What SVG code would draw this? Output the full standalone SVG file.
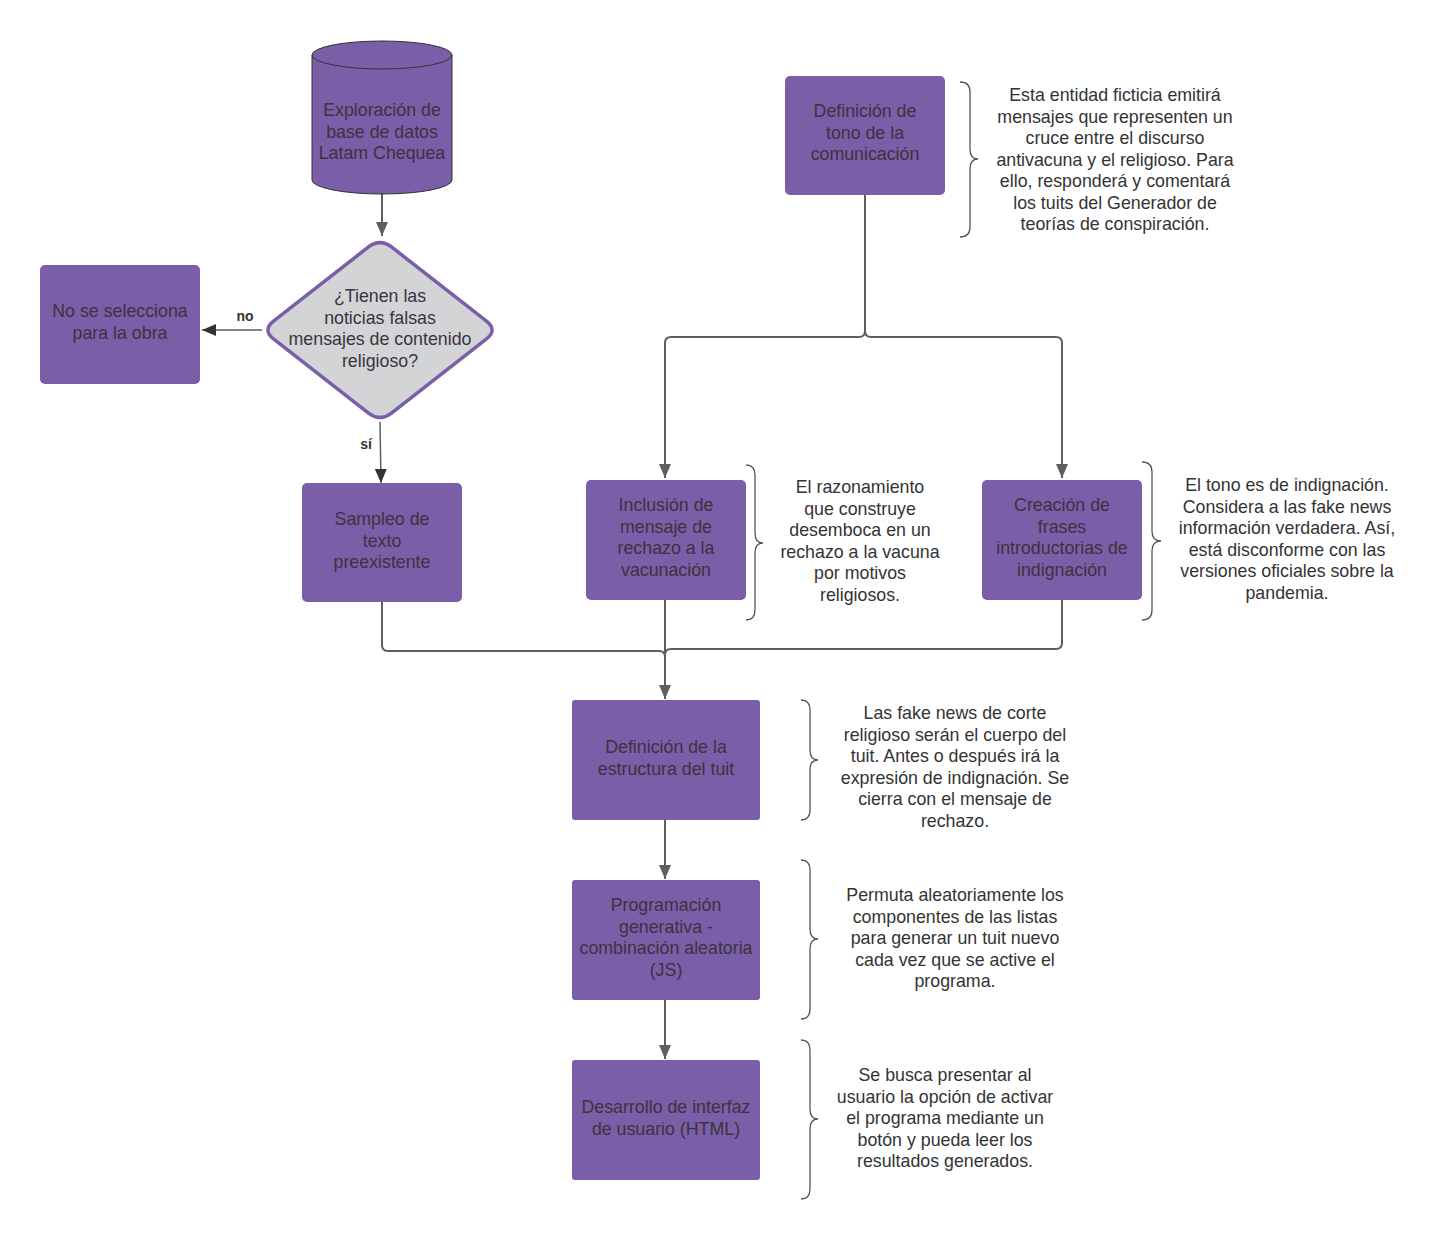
<svg xmlns="http://www.w3.org/2000/svg" width="1443" height="1240" viewBox="0 0 1443 1240">
<defs>
<marker id="ah" markerWidth="14" markerHeight="12" refX="14" refY="6" orient="auto" markerUnits="userSpaceOnUse"><path d="M0,0 L14,6 L0,12 Z" fill="#5e5e5e"/></marker>
<marker id="ah2" markerWidth="14" markerHeight="12" refX="14" refY="6" orient="auto" markerUnits="userSpaceOnUse"><path d="M0,0 L14,6 L0,12 Z" fill="#333333"/></marker>
<style>
.box{fill:#7a5ea7;}
.bt{font-family:"Liberation Sans",Arial,sans-serif;font-size:17.8px;fill:#3a3340;text-anchor:middle;}
.nt{font-family:"Liberation Sans",Arial,sans-serif;font-size:17.8px;fill:#333333;text-anchor:middle;}
.lbl{font-family:"Liberation Sans",Arial,sans-serif;font-size:14px;font-weight:bold;fill:#333333;text-anchor:middle;}
.con{fill:none;stroke:#5e5e5e;stroke-width:2;}
.thin{fill:none;stroke:#5e5e5e;stroke-width:1.5;}
.brace{fill:none;stroke:#555555;stroke-width:1.3;}
</style>
</defs>
<rect width="1443" height="1240" fill="#ffffff"/>

<g id="connectors">
<path class="con" d="M382,194 V236" marker-end="url(#ah)"/>
<path class="thin" d="M262,330 H202" marker-end="url(#ah2)"/>
<path class="thin" d="M380,422 L381,483" marker-end="url(#ah2)"/>
<path class="con" d="M865,195 V331 Q865,337 859,337 H671 Q665,337 665,343 V478" marker-end="url(#ah)"/>
<path class="con" d="M865,331 Q865,337 871,337 H1056 Q1062,337 1062,343 V478" marker-end="url(#ah)"/>
<path class="con" d="M382,602 V645 Q382,651 388,651 H659 Q665,651 665,657"/>
<path class="con" d="M1062,600 V643 Q1062,649 1056,649 H671 Q665,649 665,655"/>
<path class="con" d="M665,600 V699" marker-end="url(#ah)"/>
<path class="con" d="M665,820 V879" marker-end="url(#ah)"/>
<path class="con" d="M665,1000 V1059" marker-end="url(#ah)"/>
<text class="lbl" x="245" y="321">no</text>
<text class="lbl" x="366" y="449">sí</text>
</g>

<g id="n-db">
<path d="M312,55 V180 A70,14 0 0 0 452,180 V55 A70,14 0 0 0 312,55 Z" fill="#7a5ea7" stroke="#333333" stroke-width="1"/>
<path d="M312,55 A70,14 0 0 0 452,55" fill="none" stroke="#333333" stroke-width="1"/>
<text class="bt" x="382" y="116">Exploración de</text>
<text class="bt" x="382" y="137.5">base de datos</text>
<text class="bt" x="382" y="159">Latam Chequea</text>
</g>

<g id="n-decision">
<path d="M368.2,247.2 Q380,238 391.8,247.2 L486.2,320.8 Q498,330 486.2,339.2 L391.8,412.8 Q380,422 368.2,412.8 L273.8,339.2 Q262,330 273.8,320.8 Z" fill="#d3d4d6" stroke="#7a5ea7" stroke-width="3.5"/>
<text class="bt" x="380" y="302">¿Tienen las</text>
<text class="bt" x="380" y="323.5">noticias falsas</text>
<text class="bt" x="380" y="345">mensajes de contenido</text>
<text class="bt" x="380" y="366.5">religioso?</text>
</g>

<g id="n-noselecciona">
<rect class="box" x="40" y="265" width="160" height="119" rx="5"/>
<text class="bt" x="120" y="317">No se selecciona</text>
<text class="bt" x="120" y="338.5">para la obra</text>
</g>

<g id="n-sampleo">
<rect class="box" x="302" y="483" width="160" height="119" rx="5"/>
<text class="bt" x="382" y="525">Sampleo de</text>
<text class="bt" x="382" y="546.5">texto</text>
<text class="bt" x="382" y="568">preexistente</text>
</g>

<g id="n-tono">
<rect class="box" x="785" y="76" width="160" height="119" rx="5"/>
<text class="bt" x="865" y="117">Definición de</text>
<text class="bt" x="865" y="138.5">tono de la</text>
<text class="bt" x="865" y="160">comunicación</text>
</g>

<g id="n-inclusion">
<rect class="box" x="586" y="480" width="160" height="120" rx="5"/>
<text class="bt" x="666" y="511">Inclusión de</text>
<text class="bt" x="666" y="532.5">mensaje de</text>
<text class="bt" x="666" y="554">rechazo a la</text>
<text class="bt" x="666" y="575.5">vacunación</text>
</g>

<g id="n-creacion">
<rect class="box" x="982" y="480" width="160" height="120" rx="5"/>
<text class="bt" x="1062" y="511">Creación de</text>
<text class="bt" x="1062" y="532.5">frases</text>
<text class="bt" x="1062" y="554">introductorias de</text>
<text class="bt" x="1062" y="575.5">indignación</text>
</g>

<g id="n-estructura">
<rect class="box" x="572" y="700" width="188" height="120" rx="3"/>
<text class="bt" x="666" y="753">Definición de la</text>
<text class="bt" x="666" y="774.5">estructura del tuit</text>
</g>

<g id="n-programacion">
<rect class="box" x="572" y="880" width="188" height="120" rx="3"/>
<text class="bt" x="666" y="911">Programación</text>
<text class="bt" x="666" y="932.5">generativa -</text>
<text class="bt" x="666" y="954">combinación aleatoria</text>
<text class="bt" x="666" y="975.5">(JS)</text>
</g>

<g id="n-desarrollo">
<rect class="box" x="572" y="1060" width="188" height="120" rx="3"/>
<text class="bt" x="666" y="1113">Desarrollo de interfaz</text>
<text class="bt" x="666" y="1134.5">de usuario (HTML)</text>
</g>

<g id="note-tono">
<path class="brace" d="M960,82 Q970,82 970,92 V149 Q970,159 978,159 Q970,159 970,169 V227 Q970,237 960,237"/>
<text class="nt" x="1115" y="101">Esta entidad ficticia emitirá</text>
<text class="nt" x="1115" y="122.5">mensajes que representen un</text>
<text class="nt" x="1115" y="144">cruce entre el discurso</text>
<text class="nt" x="1115" y="165.5">antivacuna y el religioso. Para</text>
<text class="nt" x="1115" y="187">ello, responderá y comentará</text>
<text class="nt" x="1115" y="208.5">los tuits del Generador de</text>
<text class="nt" x="1115" y="230">teorías de conspiración.</text>
</g>

<g id="note-inclusion">
<path class="brace" d="M746,465 Q755,465 755,475 V533 Q755,543 763,543 Q755,543 755,553 V610 Q755,620 746,620"/>
<text class="nt" x="860" y="493">El razonamiento</text>
<text class="nt" x="860" y="514.5">que construye</text>
<text class="nt" x="860" y="536">desemboca en un</text>
<text class="nt" x="860" y="557.5">rechazo a la vacuna</text>
<text class="nt" x="860" y="579">por motivos</text>
<text class="nt" x="860" y="600.5">religiosos.</text>
</g>

<g id="note-creacion">
<path class="brace" d="M1142,462 Q1152,462 1152,472 V531 Q1152,541 1161,541 Q1152,541 1152,551 V610 Q1152,620 1142,620"/>
<text class="nt" x="1287" y="491">El tono es de indignación.</text>
<text class="nt" x="1287" y="512.5">Considera a las fake news</text>
<text class="nt" x="1287" y="534">información verdadera. Así,</text>
<text class="nt" x="1287" y="555.5">está disconforme con las</text>
<text class="nt" x="1287" y="577">versiones oficiales sobre la</text>
<text class="nt" x="1287" y="598.5">pandemia.</text>
</g>

<g id="note-estructura">
<path class="brace" d="M801,700 Q810,700 810,710 V750 Q810,760 818,760 Q810,760 810,770 V810 Q810,820 801,820"/>
<text class="nt" x="955" y="719">Las fake news de corte</text>
<text class="nt" x="955" y="740.5">religioso serán el cuerpo del</text>
<text class="nt" x="955" y="762">tuit. Antes o después irá la</text>
<text class="nt" x="955" y="783.5">expresión de indignación. Se</text>
<text class="nt" x="955" y="805">cierra con el mensaje de</text>
<text class="nt" x="955" y="826.5">rechazo.</text>
</g>

<g id="note-programacion">
<path class="brace" d="M801,860 Q810,860 810,870 V929 Q810,939 818,939 Q810,939 810,949 V1009 Q810,1019 801,1019"/>
<text class="nt" x="955" y="901">Permuta aleatoriamente los</text>
<text class="nt" x="955" y="922.5">componentes de las listas</text>
<text class="nt" x="955" y="944">para generar un tuit nuevo</text>
<text class="nt" x="955" y="965.5">cada vez que se active el</text>
<text class="nt" x="955" y="987">programa.</text>
</g>

<g id="note-desarrollo">
<path class="brace" d="M801,1040 Q810,1040 810,1050 V1109 Q810,1119 818,1119 Q810,1119 810,1129 V1189 Q810,1199 801,1199"/>
<text class="nt" x="945" y="1081">Se busca presentar al</text>
<text class="nt" x="945" y="1102.5">usuario la opción de activar</text>
<text class="nt" x="945" y="1124">el programa mediante un</text>
<text class="nt" x="945" y="1145.5">botón y pueda leer los</text>
<text class="nt" x="945" y="1167">resultados generados.</text>
</g>
</svg>
